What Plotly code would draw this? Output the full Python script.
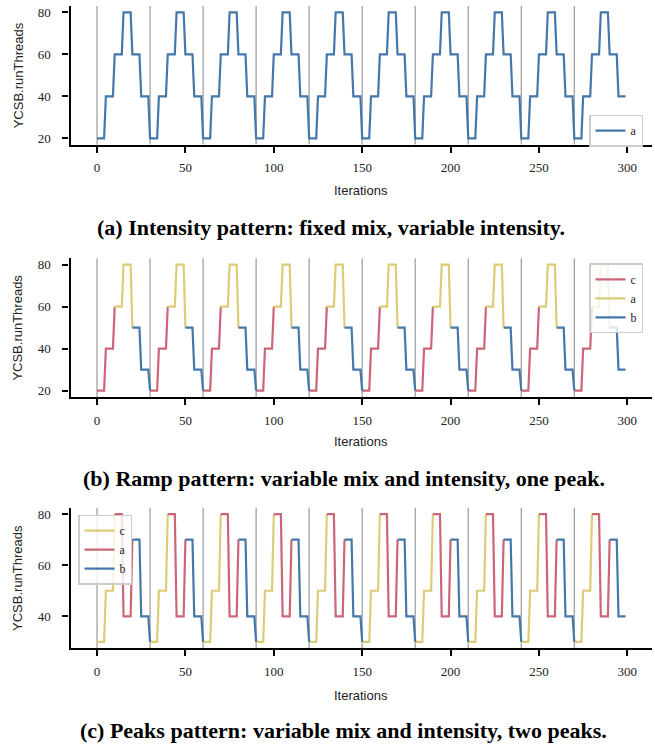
import plotly.graph_objects as go

# ---------------- data ----------------
iterations = list(range(300))

threads_intensity = [
    20, 20, 20, 20, 20, 40, 40, 40, 40, 40, 60, 60, 60, 60, 60, 80, 80, 80, 80, 80, 60, 60, 60, 60, 60, 40, 40, 40, 40, 40,
    20, 20, 20, 20, 20, 40, 40, 40, 40, 40, 60, 60, 60, 60, 60, 80, 80, 80, 80, 80, 60, 60, 60, 60, 60, 40, 40, 40, 40, 40,
    20, 20, 20, 20, 20, 40, 40, 40, 40, 40, 60, 60, 60, 60, 60, 80, 80, 80, 80, 80, 60, 60, 60, 60, 60, 40, 40, 40, 40, 40,
    20, 20, 20, 20, 20, 40, 40, 40, 40, 40, 60, 60, 60, 60, 60, 80, 80, 80, 80, 80, 60, 60, 60, 60, 60, 40, 40, 40, 40, 40,
    20, 20, 20, 20, 20, 40, 40, 40, 40, 40, 60, 60, 60, 60, 60, 80, 80, 80, 80, 80, 60, 60, 60, 60, 60, 40, 40, 40, 40, 40,
    20, 20, 20, 20, 20, 40, 40, 40, 40, 40, 60, 60, 60, 60, 60, 80, 80, 80, 80, 80, 60, 60, 60, 60, 60, 40, 40, 40, 40, 40,
    20, 20, 20, 20, 20, 40, 40, 40, 40, 40, 60, 60, 60, 60, 60, 80, 80, 80, 80, 80, 60, 60, 60, 60, 60, 40, 40, 40, 40, 40,
    20, 20, 20, 20, 20, 40, 40, 40, 40, 40, 60, 60, 60, 60, 60, 80, 80, 80, 80, 80, 60, 60, 60, 60, 60, 40, 40, 40, 40, 40,
    20, 20, 20, 20, 20, 40, 40, 40, 40, 40, 60, 60, 60, 60, 60, 80, 80, 80, 80, 80, 60, 60, 60, 60, 60, 40, 40, 40, 40, 40,
    20, 20, 20, 20, 20, 40, 40, 40, 40, 40, 60, 60, 60, 60, 60, 80, 80, 80, 80, 80, 60, 60, 60, 60, 60, 40, 40, 40, 40, 40,
]

threads_ramp = [
    20, 20, 20, 20, 20, 40, 40, 40, 40, 40, 60, 60, 60, 60, 60, 80, 80, 80, 80, 80, 50, 50, 50, 50, 50, 30, 30, 30, 30, 30,
    20, 20, 20, 20, 20, 40, 40, 40, 40, 40, 60, 60, 60, 60, 60, 80, 80, 80, 80, 80, 50, 50, 50, 50, 50, 30, 30, 30, 30, 30,
    20, 20, 20, 20, 20, 40, 40, 40, 40, 40, 60, 60, 60, 60, 60, 80, 80, 80, 80, 80, 50, 50, 50, 50, 50, 30, 30, 30, 30, 30,
    20, 20, 20, 20, 20, 40, 40, 40, 40, 40, 60, 60, 60, 60, 60, 80, 80, 80, 80, 80, 50, 50, 50, 50, 50, 30, 30, 30, 30, 30,
    20, 20, 20, 20, 20, 40, 40, 40, 40, 40, 60, 60, 60, 60, 60, 80, 80, 80, 80, 80, 50, 50, 50, 50, 50, 30, 30, 30, 30, 30,
    20, 20, 20, 20, 20, 40, 40, 40, 40, 40, 60, 60, 60, 60, 60, 80, 80, 80, 80, 80, 50, 50, 50, 50, 50, 30, 30, 30, 30, 30,
    20, 20, 20, 20, 20, 40, 40, 40, 40, 40, 60, 60, 60, 60, 60, 80, 80, 80, 80, 80, 50, 50, 50, 50, 50, 30, 30, 30, 30, 30,
    20, 20, 20, 20, 20, 40, 40, 40, 40, 40, 60, 60, 60, 60, 60, 80, 80, 80, 80, 80, 50, 50, 50, 50, 50, 30, 30, 30, 30, 30,
    20, 20, 20, 20, 20, 40, 40, 40, 40, 40, 60, 60, 60, 60, 60, 80, 80, 80, 80, 80, 50, 50, 50, 50, 50, 30, 30, 30, 30, 30,
    20, 20, 20, 20, 20, 40, 40, 40, 40, 40, 60, 60, 60, 60, 60, 80, 80, 80, 80, 80, 50, 50, 50, 50, 50, 30, 30, 30, 30, 30,
]

threads_peaks = [
    30, 30, 30, 30, 30, 50, 50, 50, 50, 50, 80, 80, 80, 80, 80, 40, 40, 40, 40, 40, 70, 70, 70, 70, 70, 40, 40, 40, 40, 40,
    30, 30, 30, 30, 30, 50, 50, 50, 50, 50, 80, 80, 80, 80, 80, 40, 40, 40, 40, 40, 70, 70, 70, 70, 70, 40, 40, 40, 40, 40,
    30, 30, 30, 30, 30, 50, 50, 50, 50, 50, 80, 80, 80, 80, 80, 40, 40, 40, 40, 40, 70, 70, 70, 70, 70, 40, 40, 40, 40, 40,
    30, 30, 30, 30, 30, 50, 50, 50, 50, 50, 80, 80, 80, 80, 80, 40, 40, 40, 40, 40, 70, 70, 70, 70, 70, 40, 40, 40, 40, 40,
    30, 30, 30, 30, 30, 50, 50, 50, 50, 50, 80, 80, 80, 80, 80, 40, 40, 40, 40, 40, 70, 70, 70, 70, 70, 40, 40, 40, 40, 40,
    30, 30, 30, 30, 30, 50, 50, 50, 50, 50, 80, 80, 80, 80, 80, 40, 40, 40, 40, 40, 70, 70, 70, 70, 70, 40, 40, 40, 40, 40,
    30, 30, 30, 30, 30, 50, 50, 50, 50, 50, 80, 80, 80, 80, 80, 40, 40, 40, 40, 40, 70, 70, 70, 70, 70, 40, 40, 40, 40, 40,
    30, 30, 30, 30, 30, 50, 50, 50, 50, 50, 80, 80, 80, 80, 80, 40, 40, 40, 40, 40, 70, 70, 70, 70, 70, 40, 40, 40, 40, 40,
    30, 30, 30, 30, 30, 50, 50, 50, 50, 50, 80, 80, 80, 80, 80, 40, 40, 40, 40, 40, 70, 70, 70, 70, 70, 40, 40, 40, 40, 40,
    30, 30, 30, 30, 30, 50, 50, 50, 50, 50, 80, 80, 80, 80, 80, 40, 40, 40, 40, 40, 70, 70, 70, 70, 70, 40, 40, 40, 40, 40,
]

# workload mix active in each 10-iteration window
phases_mixed = [
    "c", "a", "b", "c", "a", "b", "c", "a", "b", "c", "a", "b", "c", "a", "b",
    "c", "a", "b", "c", "a", "b", "c", "a", "b", "c", "a", "b", "c", "a", "b",
]
phase_len = 10
series_order = ["c", "a", "b"]

# vertical separators (start of each cycle)
cycle_starts = [0, 30, 60, 90, 120, 150, 180, 210, 240, 270]

x_ticks = [0, 50, 100, 150, 200, 250, 300]

captions = [
    "(a) Intensity pattern: fixed mix, variable intensity.",
    "(b) Ramp pattern: variable mix and intensity, one peak.",
    "(c) Peaks pattern: variable mix and intensity, two peaks.",
]

# ---------------- style ----------------
BLUE = "#4477AA"
RED = "#CC6677"
YELLOW = "#DDCC77"
colors_ramp = {"c": RED, "a": YELLOW, "b": BLUE}
colors_peaks = {"c": YELLOW, "a": RED, "b": BLUE}

W, H = 655, 746
SERIF = "Liberation Serif"
SANS = "Liberation Sans"

x_left, x_right = 70.6, 652.0
panels_px = [(5, 144), (258, 397), (508, 649)]  # (top, bottom) in px
y_ranges = [[17, 83], [17, 83], [27.5, 82.5]]
y_tickvals = [[20, 40, 60, 80], [20, 40, 60, 80], [40, 60, 80]]
title_iter_y = [190, 442, 696]
caption_y = [227, 479, 731]
caption_x = [331, 344, 343]


def py(p):
    return 1 - p / H


def px(p):
    return p / W


def split_series(values, phases):
    out = {k: [None] * len(values) for k in series_order}
    for i, v in enumerate(values):
        seg = i // phase_len
        out[phases[seg]][i] = v
        if i % phase_len == 0 and i > 0:
            out[phases[seg - 1]][i] = v
    return out


fig = go.Figure()

# panel (a)
fig.add_trace(go.Scatter(x=iterations, y=threads_intensity, mode="lines", name="a",
                         line=dict(color=BLUE, width=2.2), xaxis="x", yaxis="y",
                         legend="legend"))

# panel (b)
ramp = split_series(threads_ramp, phases_mixed)
for k in series_order:
    fig.add_trace(go.Scatter(x=iterations, y=ramp[k], mode="lines", name=k,
                             line=dict(color=colors_ramp[k], width=2.2),
                             connectgaps=False, xaxis="x2", yaxis="y2",
                             legend="legend2"))

# panel (c)
peaks = split_series(threads_peaks, phases_mixed)
for k in series_order:
    fig.add_trace(go.Scatter(x=iterations, y=peaks[k], mode="lines", name=k,
                             line=dict(color=colors_peaks[k], width=2.2),
                             connectgaps=False, xaxis="x3", yaxis="y3",
                             legend="legend3"))

layout = dict(
    width=W, height=H,
    margin=dict(l=0, r=0, t=0, b=0),
    paper_bgcolor="white", plot_bgcolor="white",
    showlegend=True,
)

shapes = []
annotations = []
for idx in range(3):
    sfx = "" if idx == 0 else str(idx + 1)
    top, bot = panels_px[idx]
    layout["xaxis" + sfx] = dict(
        domain=[px(x_left), px(x_right)], range=[-14.95, 313.95],
        anchor="y" + sfx, tickvals=x_ticks, ticks="outside", ticklen=6,
        tickwidth=2, tickcolor="black", showline=True, linewidth=2.4,
        linecolor="black", showgrid=False, zeroline=False, ticklabelstandoff=4,
        tickfont=dict(family=SERIF, size=13, color="#222"),
    )
    layout["yaxis" + sfx] = dict(
        domain=[py(bot), py(top)], range=y_ranges[idx],
        anchor="x" + sfx, tickvals=y_tickvals[idx], ticks="outside", ticklen=6,
        tickwidth=2, tickcolor="black", showline=True, linewidth=2.4,
        linecolor="black", showgrid=False, zeroline=False, ticklabelstandoff=9,
        tickfont=dict(family=SERIF, size=13, color="#222"),
    )
    for xs in cycle_starts:
        shapes.append(dict(type="line", xref="x" + sfx, yref="y" + sfx + " domain",
                           x0=xs, x1=xs, y0=0, y1=1, layer="below",
                           line=dict(color="#9a9a9a", width=1.2)))
    annotations.append(dict(text="YCSB.runThreads", textangle=-90, showarrow=False,
                            xref="paper", yref="paper", x=px(18), y=py((top + bot) / 2),
                            xanchor="center", yanchor="middle",
                            font=dict(family=SANS, size=13, color="#222")))
    annotations.append(dict(text="Iterations", showarrow=False, xref="paper", yref="paper",
                            x=px((x_left + x_right) / 2), y=py(title_iter_y[idx]),
                            xanchor="center", yanchor="middle",
                            font=dict(family=SANS, size=13, color="#222")))
    annotations.append(dict(text="<b>" + captions[idx] + "</b>", showarrow=False,
                            xref="paper", yref="paper", x=px(caption_x[idx]), y=py(caption_y[idx]),
                            xanchor="center", yanchor="middle",
                            font=dict(family=SERIF, size=22, color="black")))

legend_style = dict(bgcolor="rgba(255,255,255,0.8)", bordercolor="#cccccc", borderwidth=1.5,
                    font=dict(family=SERIF, size=12, color="#222"), itemwidth=30)
layout["legend"] = dict(x=px(643), y=py(114), xanchor="right", yanchor="top", **legend_style)
layout["legend2"] = dict(x=px(643), y=py(263), xanchor="right", yanchor="top", **legend_style)
layout["legend3"] = dict(x=px(78), y=py(515), xanchor="left", yanchor="top", **legend_style)

layout["shapes"] = shapes
layout["annotations"] = annotations
fig.update_layout(**layout)

fig.write_html("out.html", config={"displayModeBar": False},
               post_script="document.body.style.margin='0px';")
